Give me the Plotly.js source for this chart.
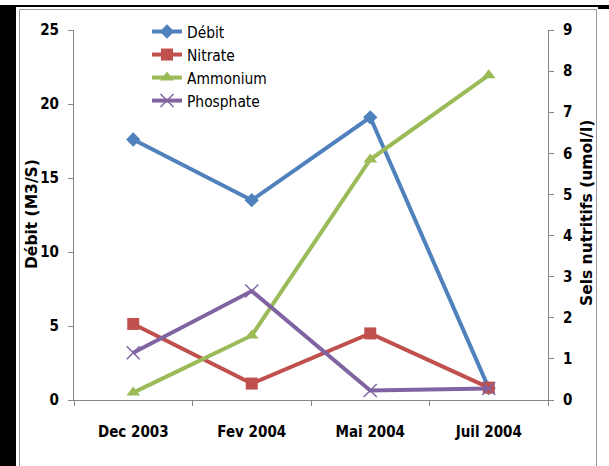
<!DOCTYPE html>
<html>
<head>
<meta charset="utf-8">
<script src="https://cdn.plot.ly/plotly-3.0.1.min.js"></script>
<style>html,body{margin:0;padding:0;background:#fff;}#chart{width:609px;height:466px;}</style>
</head>
<body>
<div id="chart"></div>
<script>
// ---- data ----
const categories = ['Dec 2003', 'Fev 2004', 'Mai 2004', 'Juil 2004'];
const debit      = [17.6, 13.5, 19.1, 0.8];   // left axis (M3/S)
const nitrate    = [1.85, 0.40, 1.62, 0.30];  // right axis (umol/l)
const ammonium   = [0.18, 1.57, 5.85, 7.90];
const phosphate  = [1.15, 2.65, 0.23, 0.28];
const leftTicks  = [0, 5, 10, 15, 20, 25];
const rightTicks = [0, 1, 2, 3, 4, 5, 6, 7, 8, 9];
const leftTitle  = 'Débit (M3/S)';
const rightTitle = 'Sels nutritifs (umol/l)';

// ---- layout constants (pixels) ----
const W = 609, H = 466;
const L = 74, R = 548, T = 30, B = 400;
const pw = R - L, ph = B - T;
const px = v => (v - L) / pw;
const py = v => (B - v) / ph;

const narrow = '"DejaVu Sans Condensed", sans-serif';
const wide = '"DejaVu Sans", sans-serif';

const traces = [
  {x: categories, y: debit, name: 'Débit', type: 'scatter', mode: 'lines+markers', yaxis: 'y',
   line: {color: '#4F81BD', width: 4}, marker: {symbol: 'diamond', size: 11, color: '#4F81BD'}},
  {x: categories, y: nitrate, name: 'Nitrate', type: 'scatter', mode: 'lines+markers', yaxis: 'y2',
   line: {color: '#C0504D', width: 4}, marker: {symbol: 'square', size: 12, color: '#C0504D'}},
  {x: categories, y: ammonium, name: 'Ammonium', type: 'scatter', mode: 'lines+markers', yaxis: 'y2',
   line: {color: '#9BBB59', width: 4}, marker: {symbol: 'triangle-up', size: 12, color: '#9BBB59'}},
  {x: categories, y: phosphate, name: 'Phosphate', type: 'scatter', mode: 'lines+markers', yaxis: 'y2',
   line: {color: '#8064A2', width: 4}, marker: {symbol: 'x-thin-open', size: 13, color: '#8064A2', line: {color: '#8064A2', width: 1.5}}}
];

const tickFont = {family: narrow, size: 15, color: '#000', weight: 'bold'};
const titleFont = {family: wide, size: 15.5, color: '#000', weight: 'bold'};

const layout = {
  width: W, height: H,
  margin: {l: L, r: W - R, t: T, b: H - B, pad: 0},
  paper_bgcolor: '#ffffff', plot_bgcolor: 'rgba(0,0,0,0)',
  showlegend: true,
  legend: {x: px(147), y: py(15), xanchor: 'left', yanchor: 'top', bgcolor: 'rgba(0,0,0,0)',
           font: {family: narrow, size: 15.4, color: '#000'}, tracegroupgap: 0},
  xaxis: {type: 'category', range: [-0.5, 3.5], showline: true, linecolor: '#868686', linewidth: 1,
          ticks: 'outside', tickson: 'boundaries', ticklen: 5, tickcolor: '#868686',
          showgrid: false, zeroline: false, fixedrange: true, ticklabelstandoff: 18,
          tickfont: tickFont},
  yaxis: {range: [0, 25], tickvals: leftTicks, showline: true, linecolor: '#868686', linewidth: 1,
          ticks: 'outside', ticklen: 5, tickcolor: '#868686', showgrid: false, zeroline: false,
          ticklabelstandoff: 6, tickfont: tickFont},
  yaxis2: {range: [0, 9], tickvals: rightTicks, overlaying: 'y', side: 'right', showline: true,
           linecolor: '#868686', linewidth: 1, ticks: 'outside', ticklen: 5, tickcolor: '#868686',
           showgrid: false, zeroline: false, ticklabelstandoff: 6, tickfont: tickFont},
  annotations: [
    {text: leftTitle, xref: 'paper', yref: 'paper', x: px(32), y: py(214), xanchor: 'center', yanchor: 'middle',
     textangle: -90, showarrow: false, font: titleFont},
    {text: rightTitle, xref: 'paper', yref: 'paper', x: px(587), y: py(213), xanchor: 'center', yanchor: 'middle',
     textangle: -90, showarrow: false, font: titleFont}
  ],
  shapes: [
    // chart-area frame (grey)
    {type: 'rect', xref: 'paper', yref: 'paper', x0: px(19.5), x1: px(596.5), y0: py(480), y1: py(9.5),
     line: {color: '#9a9a9a', width: 1}, fillcolor: 'rgba(0,0,0,0)', layer: 'below'},
    // black outer frame pieces
    {type: 'rect', xref: 'paper', yref: 'paper', x0: px(0), x1: px(16), y0: py(470), y1: py(5),
     line: {width: 0}, fillcolor: '#000', layer: 'below'},
    {type: 'rect', xref: 'paper', yref: 'paper', x0: px(0), x1: px(609), y0: py(7), y1: py(5),
     line: {width: 0}, fillcolor: '#000', layer: 'below'},
    {type: 'rect', xref: 'paper', yref: 'paper', x0: px(598), x1: px(609), y0: py(9), y1: py(5),
     line: {width: 0}, fillcolor: '#000', layer: 'below'}
  ]
};

Plotly.newPlot('chart', traces, layout, {staticPlot: true, displayModeBar: false});
</script>
</body>
</html>
